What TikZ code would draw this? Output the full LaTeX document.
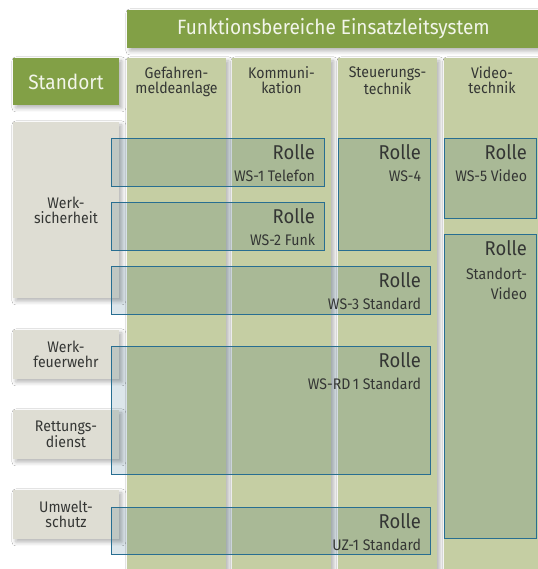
\documentclass[tikz,border=0pt]{standalone}
\usepackage{fontspec}
\setmainfont{Fira Sans}[FakeStretch=0.92]
\usetikzlibrary{fit,calc,shadows.blur}

\definecolor{headgreen}{RGB}{130,160,70}
\definecolor{colfill}{RGB}{197,206,163}
\definecolor{rowfill}{RGB}{222,221,211}
\definecolor{roletint}{RGB}{220,230,235}
\definecolor{rolestroke}{RGB}{40,110,145}
\definecolor{inktext}{RGB}{52,54,52}
\definecolor{lighttext}{RGB}{242,245,234}

\begin{document}
\begin{tikzpicture}[x=0.75pt,y=-0.75pt,
  every node/.style={inner sep=0pt,outer sep=0pt},
  softshadow/.style={blur shadow={shadow xshift=2.2pt,shadow yshift=-2.2pt,
      shadow blur radius=3pt,shadow opacity=30}},
  greenbar/.style={fill=headgreen,softshadow},
  column/.style={fill=colfill,softshadow},
  rowbox/.style={fill=rowfill,softshadow},
  rolebox/.style={fill=roletint},
  roleedge/.style={draw=rolestroke,line width=0.7pt},
  bigtext/.style={font=\fontsize{15.5}{18}\selectfont,text=lighttext},
  smalltext/.style={font=\fontsize{11.5}{11.25}\selectfont,text=inktext,align=center},
  rolletext/.style={font=\fontsize{15}{18}\selectfont,text=inktext,anchor=base east},
  subtext/.style={font=\fontsize{11.5}{15}\selectfont,text=inktext,anchor=base east},
]
\useasboundingbox (0,0) rectangle (538,569);
\fill[white] (0,0) rectangle (538,569);

% header bars
\node[greenbar,fit={(127,10)(540,48)}] (head) {};
\node[bigtext] at (head.center) {Funktionsbereiche Einsatzleitsystem};
\node[greenbar,fit={(13,58)(119,105)}] (standort) {};
\node[bigtext] at (standort.center) {Standort};

% functional columns
\node[column,fit={(127,58)(226,572)}] (gma) {};
\node[column,fit={(232,58)(331,572)}] (komm) {};
\node[column,fit={(338,58)(437,572)}] (steuer) {};
\node[column,fit={(444,58)(540,572)}] (video) {};
\node[smalltext,anchor=north] at ($(gma.north)+(0,9)$) {Gefahren-\\meldeanlage};
\node[smalltext,anchor=north] at ($(komm.north)+(0,9)$) {Kommuni-\\kation};
\node[smalltext,anchor=north] at ($(steuer.north)+(0,9)$) {Steuerungs-\\technik};
\node[smalltext,anchor=north] at ($(video.north)+(0,9)$) {Video-\\technik};

% site rows
\node[rowbox,fit={(13,122)(119,298)}] (werksich) {};
\node[rowbox,fit={(13,330)(119,379)}] (feuerwehr) {};
\node[rowbox,fit={(13,410)(119,459)}] (rettung) {};
\node[rowbox,fit={(13,490)(119,539)}] (umwelt) {};
\node[smalltext] at (werksich.center) {Werk-\\sicherheit};
\node[smalltext] at (feuerwehr.center) {Werk-\\feuerwehr};
\node[smalltext] at (rettung.center) {Rettungs-\\dienst};
\node[smalltext] at (umwelt.center) {Umwelt-\\schutz};

% role boxes, tinted over whatever lies beneath
\begin{scope}[blend mode=multiply]
\node[rolebox,fit={(111,138)(324,186)}] (ws1) {};
\node[rolebox,fit={(111,202)(324,250)}] (ws2) {};
\node[rolebox,fit={(111,266)(430,314)}] (ws3) {};
\node[rolebox,fit={(111,346)(430,474)}] (wsrd) {};
\node[rolebox,fit={(111,507)(430,554)}] (uz1) {};
\node[rolebox,fit={(338,138)(430,250)}] (ws4) {};
\node[rolebox,fit={(444,138)(536,218)}] (ws5) {};
\node[rolebox,fit={(444,234)(536,538)}] (sv) {};
\end{scope}

% outlines and labels of the role boxes
\foreach \b in {ws1,ws2,ws3,wsrd,uz1,ws4,ws5,sv}{
  \draw[roleedge] (\b.south west) rectangle (\b.north east);
  \node[rolletext] at ($(\b.north east)+(-9,21)$) {Rolle};
}
\foreach \b/\t in {ws1/WS-1 Telefon,ws2/WS-2 Funk,ws3/WS-3 Standard,
                   wsrd/WS-RD\,1 Standard,uz1/UZ-1 Standard,ws4/WS-4,ws5/WS-5 Video}{
  \node[subtext] at ($(\b.north east)+(-9,43)$) {\t};
}
\node[subtext,align=right,anchor=north east] at ($(sv.north east)+(-9,34)$) {Standort-\\Video};
\end{tikzpicture}
\end{document}
